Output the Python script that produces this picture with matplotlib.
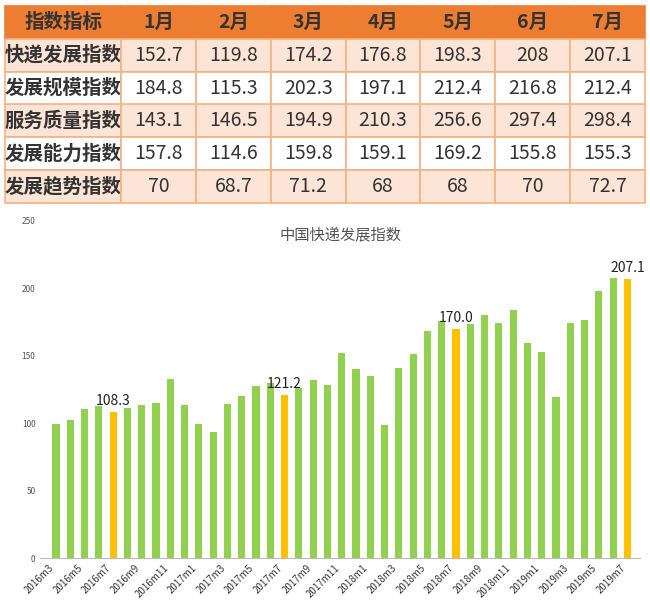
import matplotlib
matplotlib.use("Agg")
import matplotlib.pyplot as plt
import numpy as np

plt.rcParams["font.family"] = ["Noto Sans CJK SC", "DejaVu Sans"]

# table data
col_labels = ["指数指标", "1月", "2月", "3月", "4月", "5月", "6月", "7月"]
row_labels = ["快递发展指数", "发展规模指数", "服务质量指数", "发展能力指数", "发展趋势指数"]
table_vals = [
    ["152.7", "119.8", "174.2", "176.8", "198.3", "208", "207.1"],
    ["184.8", "115.3", "202.3", "197.1", "212.4", "216.8", "212.4"],
    ["143.1", "146.5", "194.9", "210.3", "256.6", "297.4", "298.4"],
    ["157.8", "114.6", "159.8", "159.1", "169.2", "155.8", "155.3"],
    ["70", "68.7", "71.2", "68", "68", "70", "72.7"],
]

# bar chart data, 2016m3 .. 2019m7
months = []
for y in range(2016, 2020):
    for m in range(1, 13):
        if (y == 2016 and m < 3) or (y == 2019 and m > 7):
            continue
        months.append(f"{y}m{m}")
values = [99.3, 102.5, 110.4, 112.6, 108.3, 111.0, 113.5, 115.0, 132.6, 113.5,
          99.3, 93.6, 114.3, 120.0, 127.7, 130.0, 121.2, 126.0, 132.0, 128.4, 151.9, 140.0,
          135.0, 98.3, 141.0, 151.0, 168.4, 176.0, 170.0, 173.6, 180.2, 174.3, 183.7, 159.3,
          152.7, 119.8, 174.2, 176.8, 198.3, 208.0, 207.1]
highlight = ["2016m7", "2017m7", "2018m7", "2019m7"]

fig = plt.figure(figsize=(6.5, 6.09), dpi=100)

# ---- table
tax = fig.add_axes([0.008, 1 - 203 / 609, 0.984, 197 / 609])
tax.axis("off")
cells = [[r] + v for r, v in zip(row_labels, table_vals)]
colours = [["#FCE4D6" if i % 2 == 0 else "white"] * 8 for i in range(len(cells))]
tbl = tax.table(cellText=cells, colLabels=col_labels, cellColours=colours,
                colColours=["#ED7D31"] * 8, cellLoc="center", bbox=[0, 0, 1, 1],
                colWidths=[1.55] + [1] * 7)
tbl.auto_set_font_size(False)
for (r, c), cell in tbl.get_celld().items():
    cell.set_edgecolor("#F4B183")
    cell.set_linewidth(1.2)
    txt = cell.get_text()
    txt.set_fontsize(14)
    txt.set_color("#333333")
    if r == 0 or c == 0:
        txt.set_fontweight("bold")
    if r == 0:
        cell.set_edgecolor("#ED7D31")

# ---- bar chart
ax = fig.add_axes([0.062, 1 - 558 / 609, 0.923, 337 / 609])
x = np.arange(len(months))
cols = ["#FFC000" if m in highlight else "#92D050" for m in months]
ax.bar(x, values, width=0.5, color=cols)
for xi, m, v in zip(x, months, values):
    if m in highlight:
        ax.text(xi, v + 3, f"{v:.1f}", ha="center", va="bottom", fontsize=10, color="#222222")
ax.set_ylim(0, 250)
ax.set_xlim(-1.1, len(months) - 0.1)
ax.set_yticks([0, 50, 100, 150, 200, 250])
ax.tick_params(axis="y", labelsize=6, colors="#555555", length=0)
ax.set_xticks(x[::2])
ax.set_xticklabels(months[::2], rotation=45, ha="right", fontsize=7, color="#333333")
ax.tick_params(axis="x", length=0)
for s in ["top", "right", "left"]:
    ax.spines[s].set_visible(False)
ax.spines["bottom"].set_color("#BBBBBB")
ax.text(0.5, 0.96, "中国快递发展指数", transform=ax.transAxes, ha="center",
        va="center", fontsize=11, color="#555555")

fig.savefig("out.png", dpi=100)
